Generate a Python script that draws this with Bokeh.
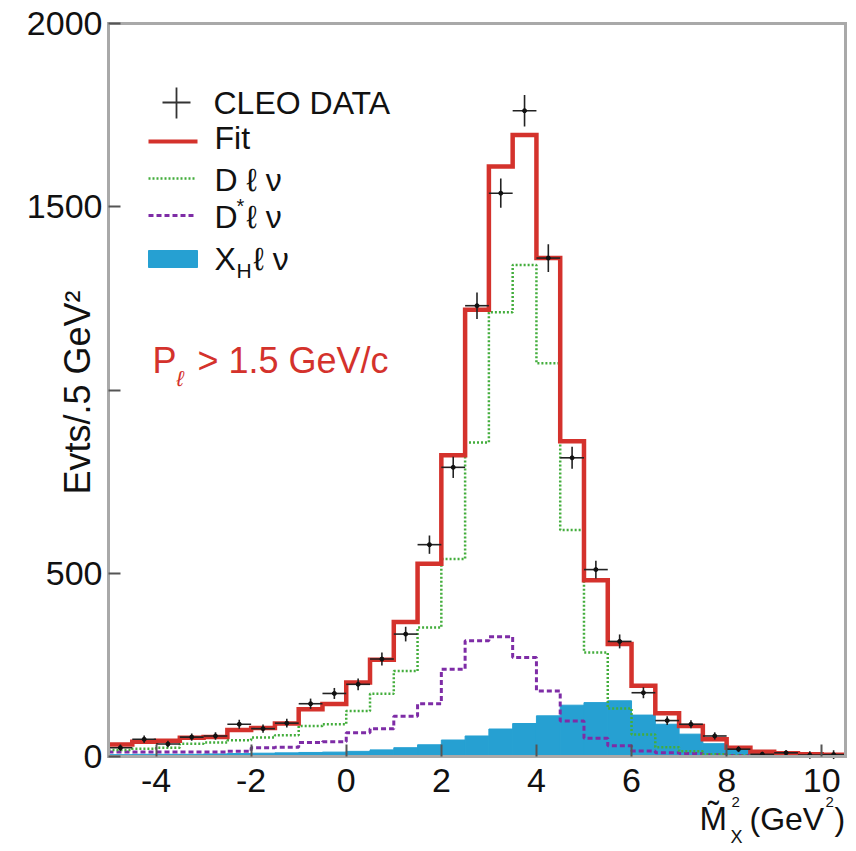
import math
from bokeh.plotting import figure
from bokeh.models import Label, FixedTicker, Range1d, LinearAxis
from bokeh.embed import file_html
from bokeh.resources import INLINE

# ---------------- data ----------------
bin_start = -5.0
bin_width = 0.5
n_bins = 31
edges = [bin_start + i * bin_width for i in range(n_bins + 1)]
centers = [bin_start + (i + 0.5) * bin_width for i in range(n_bins)]

fit_vals = [33, 40, 43, 51, 53, 72, 78, 90, 129, 143, 202, 264, 367, 526, 822,
            1219, 1610, 1696, 1360, 860, 481, 307, 193, 118, 83, 47, 24, 13, 9, 6, 5]
data_vals = [24, 47, 34, 53, 56, 88, 76, 91, 144, 172, 197, 266, 334, 578, 789,
             1230, 1537, 1762, 1360, 815, 510, 314, 174, 98, 88, 56, 20, 6, 10, 4, 5]
data_errs = [9, 10, 9, 10, 10, 12, 11, 12, 14, 15, 16, 18, 20, 25, 29,
             36, 40, 43, 38, 30, 24, 19, 15, 12, 11, 10, 8, 7, 7, 10, 12]
dlnu_vals = [18, 21, 24, 35, 38, 44, 52, 58, 83, 88, 124, 171, 233, 352, 539,
             857, 1212, 1341, 1073, 618, 284, 131, 60, 25, 14, 6, 3, 2, 1, 1, 0]
dstar_vals = [12, 12, 12, 12, 12, 14, 24, 25, 38, 40, 65, 76, 110, 144, 238,
              316, 327, 270, 179, 97, 50, 29, 15, 10, 8, 5, 3, 2, 1, 1, 0]
xh_vals = [5, 6, 6, 6, 7, 8, 9, 10, 11, 12, 14, 18, 24, 32, 45,
           56, 75, 90, 111, 140, 147, 152, 113, 88, 61, 35, 18, 10, 6, 4, 3]

x_ticks = [-4, -2, 0, 2, 4, 6, 8, 10]
y_ticks = [0, 500, 1000, 1500, 2000]

# ---------------- styles ----------------
RED = "#d4322c"
GREEN = "#43ad3c"
PURPLE = "#7e2ca6"
BLUE = "#26a0d2"
FRAME = "#a9a9a9"
TEXT_FONT = "Liberation Sans"

W, H = 856, 851
X0, X1, Y0, Y1 = -5.0, 10.5, 0.0, 2000.0
FL, FR, FT, FB = 108, 845, 23, 756


def sx(px):
    return X0 + (px - FL) * (X1 - X0) / (FR - FL)


def sy(py):
    return Y0 + (FB - py) * (Y1 - Y0) / (FB - FT)


p = figure(width=W, height=H, x_range=Range1d(sx(0), sx(W)), y_range=Range1d(sy(H), sy(0)),
           output_backend="svg", toolbar_location=None, min_border=0,
           min_border_left=0, min_border_right=0, min_border_top=0, min_border_bottom=0)
p.grid.visible = False
p.outline_line_color = None
p.background_fill_color = "white"
p.border_fill_color = "white"

# histograms
p.quad(left=edges[:-1], right=edges[1:], bottom=0, top=xh_vals,
       fill_color=BLUE, line_color=BLUE, line_width=1)
p.step(edges, dstar_vals + [dstar_vals[-1]], mode="after",
       line_color=PURPLE, line_width=3, line_dash="5 3")
p.step(edges, dlnu_vals + [dlnu_vals[-1]], mode="after",
       line_color=GREEN, line_width=2.5, line_dash="2 2")
p.step(edges, fit_vals + [fit_vals[-1]], mode="after",
       line_color=RED, line_width=4.5, line_join="miter")

# data crosses
p.segment(x0=centers, x1=centers,
          y0=[v - e for v, e in zip(data_vals, data_errs)],
          y1=[v + e for v, e in zip(data_vals, data_errs)],
          line_color="#222222", line_width=1.6)
p.segment(x0=[c - bin_width / 2 for c in centers], x1=[c + bin_width / 2 for c in centers],
          y0=data_vals, y1=data_vals, line_color="#222222", line_width=1.6)
p.scatter(centers, data_vals, size=4, color="#111111")

# axes (fixed in place, frame drawn by four axes)
xa = p.xaxis[0]
ya = p.yaxis[0]
xa.fixed_location = Y0
xa.bounds = (X0, X1)
ya.fixed_location = X0
ya.bounds = (Y0, Y1)
for ax in (xa, ya):
    ax.axis_line_color = FRAME
    ax.axis_line_width = 3
    ax.axis_line_cap = "square"
    ax.major_tick_in = 12
    ax.major_tick_out = 0
    ax.major_tick_line_color = "#555555"
    ax.major_tick_line_width = 2
    ax.minor_tick_line_color = None
    ax.major_label_text_font = TEXT_FONT
    ax.major_label_text_font_size = "34px"
    ax.major_label_text_color = "#111111"
xa.ticker = FixedTicker(ticks=x_ticks, minor_ticks=[])
ya.ticker = FixedTicker(ticks=y_ticks, minor_ticks=[])
xa.major_label_standoff = 12
ya.major_label_standoff = 6
xa.major_label_overrides = {t: (f"-{abs(t)}" if t < 0 else str(t)) for t in x_ticks}
ya.major_label_overrides = {1000: ""}

top_ax = LinearAxis(fixed_location=Y1, bounds=(X0, X1), ticker=FixedTicker(ticks=[], minor_ticks=[]),
                    axis_line_color=FRAME, axis_line_width=3, axis_line_cap="square",
                    major_tick_line_color=None, minor_tick_line_color=None,
                    major_label_text_alpha=0)
right_ax = LinearAxis(fixed_location=X1, bounds=(Y0, Y1), ticker=FixedTicker(ticks=[], minor_ticks=[]),
                      axis_line_color=FRAME, axis_line_width=3, axis_line_cap="square",
                      major_tick_line_color=None, minor_tick_line_color=None,
                      major_label_text_alpha=0)
p.add_layout(top_ax, "above")
p.add_layout(right_ax, "right")


def lab(px, py, text, size, color="#111111", align="left", angle=0.0, style="normal"):
    p.add_layout(Label(x=sx(px), y=sy(py), text=text, text_font=TEXT_FONT,
                       text_font_size=f"{size}px", text_color=color,
                       text_align=align, text_baseline="middle", angle=angle,
                       text_font_style=style))


# y-axis title
lab(77, 392, "Evts/.5 GeV\u00b2", 36, align="center", angle=math.pi / 2)

# x-axis title
lab(699, 818, "M\u0303", 33)
lab(731, 801, "2", 15)
lab(730, 836, "X", 18)
lab(749, 818, "(GeV", 32)
lab(825, 801, "2", 15)
lab(834, 818, ")", 32)

# legend
p.segment(x0=[sx(176)], x1=[sx(176)], y0=[sy(87)], y1=[sy(118)], line_color="#333333", line_width=1.8)
p.segment(x0=[sx(162)], x1=[sx(190)], y0=[sy(102)], y1=[sy(102)], line_color="#333333", line_width=1.8)
p.segment(x0=[sx(148)], x1=[sx(197)], y0=[sy(141)], y1=[sy(141)], line_color=RED, line_width=4)
p.segment(x0=[sx(148)], x1=[sx(196)], y0=[sy(178)], y1=[sy(178)], line_color=GREEN, line_width=2.5, line_dash="2 2")
p.segment(x0=[sx(148)], x1=[sx(196)], y0=[sy(215)], y1=[sy(215)], line_color=PURPLE, line_width=3, line_dash="5 3")
p.quad(left=[sx(148)], right=[sx(197)], bottom=[sy(267)], top=[sy(250)], fill_color=BLUE, line_color=BLUE)

lab(213, 102, "CLEO DATA", 32)
lab(214, 137, "Fit", 32)
lab(214, 179, "D \u2113 \u03bd", 32)
lab(214, 216, "D", 32)
lab(236, 205, "*", 20)
lab(246, 216, "\u2113 \u03bd", 32)
lab(214, 258, "X", 32)
lab(236, 270, "H", 21)
lab(253, 258, "\u2113 \u03bd", 32)

# cut annotation
lab(152, 360, "P", 36, color=RED)
lab(176, 378, "\u2113", 22, color=RED, style="italic")
lab(197, 360, "> 1.5 GeV/c", 36, color=RED)

open("out.html", "w").write(file_html(p, INLINE))
